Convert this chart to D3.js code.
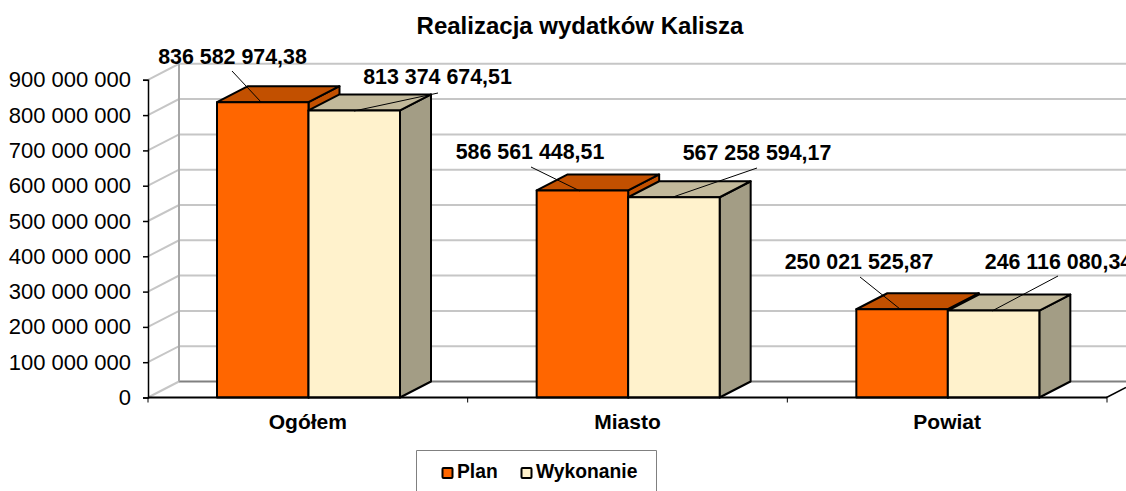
<!DOCTYPE html>
<html>
<head>
<meta charset="utf-8">
<script src="https://cdn.jsdelivr.net/npm/d3@7/dist/d3.min.js"></script>
<style>
html, body { margin: 0; padding: 0; background: #fff; overflow: hidden; }
text { font-family: "Liberation Sans", Arial, sans-serif; fill: #000; }
</style>
</head>
<body>
<svg id="chart" width="1126" height="491"></svg>
<script>
var categories = ["Ogółem", "Miasto", "Powiat"];
var seriesNames = ["Plan", "Wykonanie"];
var planValues = [836582974.38, 586561448.51, 250021525.87];
var wykonanieValues = [813374674.51, 567258594.17, 246116080.34];
var planLabels = ["836 582 974,38", "586 561 448,51", "250 021 525,87"];
var wykonanieLabels = ["813 374 674,51", "567 258 594,17", "246 116 080,34"];
var tickValues = [0, 100000000, 200000000, 300000000, 400000000, 500000000, 600000000, 700000000, 800000000, 900000000];

var svg = d3.select("#chart"),
    depthX = 31,
    depthY = -16,
    barWidth = 91.5;

var y = d3.scaleLinear().domain([0, 900000000]).range([397.5, 79.8]);
var x0 = d3.scaleBand().domain(categories).range([148, 1107]);
var x1 = d3.scaleBand().domain(seriesNames).range([69, 69 + 2 * barWidth]);

var colors = {
    Plan: { front: "#ff6600", top: "#c25000", side: "#c25000" },
    Wykonanie: { front: "#fff2cc", top: "#c2b99b", side: "#a39d85" }
};

function pts(arr) {
    return arr.map(function(p) { return p.join(","); }).join(" ");
}

function fmt(v) {
    return d3.format(",d")(v).replace(/,/g, " ");
}

// walls
var grid = svg.append("g");
tickValues.forEach(function(t) {
    if (t == 0) return;
    grid.append("polyline")
        .attr("points", pts([[148, y(t)], [148 + depthX, y(t) + depthY], [1126, y(t) + depthY]]))
        .attr("fill", "none")
        .attr("stroke", "#c6c6c6")
        .attr("stroke-width", 2);
});
grid.append("line")
    .attr("x1", 148).attr("y1", y(0))
    .attr("x2", 148 + depthX).attr("y2", y(0) + depthY)
    .attr("stroke", "#c6c6c6").attr("stroke-width", 2);
grid.append("line")
    .attr("x1", 148 + depthX).attr("y1", y(0) + depthY)
    .attr("x2", 1126).attr("y2", y(0) + depthY)
    .attr("stroke", "#808080").attr("stroke-width", 2);
grid.append("line")
    .attr("x1", 148 + depthX).attr("y1", y(900000000) + depthY)
    .attr("x2", 148 + depthX).attr("y2", y(0) + depthY)
    .attr("stroke", "#a6a6a6").attr("stroke-width", 2);

// floor front edge
svg.append("line")
    .attr("x1", 1106.5).attr("y1", y(0))
    .attr("x2", 1126).attr("y2", y(0) - 10)
    .attr("stroke", "#000").attr("stroke-width", 1.5);

// bars, back to front
categories.forEach(function(c, i) {
    seriesNames.forEach(function(s) {
        var v = s == "Plan" ? planValues[i] : wykonanieValues[i],
            x = x0(c) + x1(s),
            top = y(v),
            bottom = y(0),
            w = barWidth,
            g = svg.append("g").attr("stroke", "#000").attr("stroke-width", 2).attr("stroke-linejoin", "round");

        g.append("polygon")
            .attr("points", pts([[x + w, top], [x + w + depthX, top + depthY], [x + w + depthX, bottom + depthY], [x + w, bottom]]))
            .attr("fill", colors[s].side);
        g.append("polygon")
            .attr("points", pts([[x, top], [x + depthX, top + depthY], [x + w + depthX, top + depthY], [x + w, top]]))
            .attr("fill", colors[s].top);
        g.append("rect")
            .attr("x", x).attr("y", top)
            .attr("width", w).attr("height", bottom - top)
            .attr("fill", colors[s].front);
    });
});

// axes
var yAxis = d3.axisLeft(y).tickValues(tickValues).tickFormat(fmt).tickSize(5).tickPadding(12);
var yG = svg.append("g").attr("transform", "translate(148,0)").call(yAxis);
yG.selectAll("text").style("font-size", "22px").style("font-family", "Liberation Sans");
yG.selectAll("line, path").attr("stroke", "#000").attr("stroke-width", 1.5);

var xG = svg.append("g").attr("transform", "translate(0," + y(0) + ")");
xG.append("line")
    .attr("x1", 148).attr("x2", 1107)
    .attr("stroke", "#000").attr("stroke-width", 2);
d3.range(categories.length + 1).forEach(function(i) {
    var xp = 148 + i * x0.bandwidth();
    xG.append("line")
        .attr("x1", xp).attr("x2", xp)
        .attr("y1", 0).attr("y2", 5)
        .attr("stroke", "#000").attr("stroke-width", 1);
});
categories.forEach(function(c) {
    xG.append("text")
        .attr("x", x0(c) + x0.bandwidth() / 2)
        .attr("y", 31)
        .attr("text-anchor", "middle")
        .style("font-size", "21px")
        .style("font-weight", "bold")
        .text(c);
});

// data labels and leader lines
var planLabelPos = [[232.5, 63.5], [530, 159], [859, 269]];
var wykLabelPos = [[437.5, 84], [757, 160], [1058.5, 269]];
var planLeader = [[232, 71, 261, 102], [531, 167, 580, 191], [860, 277, 900, 309]];
var wykLeader = [[438, 93, 354, 111], [757, 168, 673, 197], [1058, 276, 992, 311]];

function label(pos, line, txt) {
    svg.append("line")
        .attr("x1", line[0]).attr("y1", line[1])
        .attr("x2", line[2]).attr("y2", line[3])
        .attr("stroke", "#000").attr("stroke-width", 1);
    svg.append("text")
        .attr("x", pos[0]).attr("y", pos[1])
        .attr("text-anchor", "middle")
        .style("font-size", "21.4px")
        .style("font-weight", "bold")
        .text(txt);
}
categories.forEach(function(c, i) {
    label(planLabelPos[i], planLeader[i], planLabels[i]);
    label(wykLabelPos[i], wykLeader[i], wykonanieLabels[i]);
});

// title
svg.append("text")
    .attr("x", 580).attr("y", 34)
    .attr("text-anchor", "middle")
    .style("font-size", "24px")
    .style("font-weight", "bold")
    .text("Realizacja wydatków Kalisza");

// legend
svg.append("path")
    .attr("d", "M416.5,491V450.5H656.5V491")
    .attr("fill", "#fff")
    .attr("stroke", "#808080")
    .attr("stroke-width", 1);
var legendX = [442.5, 521.5];
seriesNames.forEach(function(s, i) {
    svg.append("rect")
        .attr("x", legendX[i]).attr("y", 468)
        .attr("width", 10).attr("height", 10)
        .attr("rx", 1)
        .attr("fill", colors[s].front)
        .attr("stroke", "#000")
        .attr("stroke-width", 2);
    svg.append("text")
        .attr("x", legendX[i] + 14.5).attr("y", 478)
        .style("font-size", "19.3px")
        .style("font-weight", "bold")
        .text(s);
});
</script>
</body>
</html>
